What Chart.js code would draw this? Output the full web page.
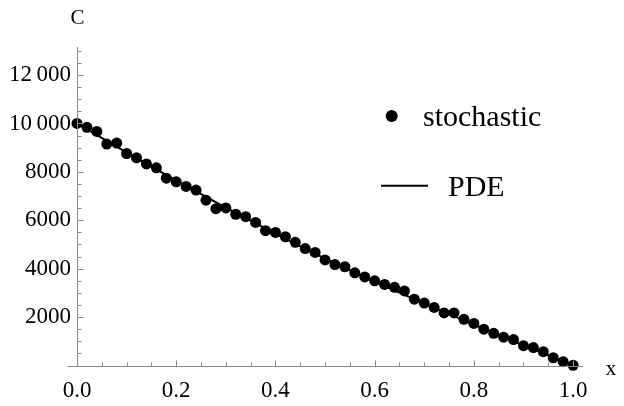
<!DOCTYPE html>
<html>
<head>
<meta charset="utf-8">
<script src="https://cdn.jsdelivr.net/npm/chart.js@4/dist/chart.umd.min.js"></script>
<style>
  html, body { margin: 0; padding: 0; background: #fff; }
  #chart { display: block; }
</style>
</head>
<body>
<canvas id="chart" width="624" height="406"></canvas>
<script>
// x positions of the simulated samples
const xs = [0, 0.02, 0.04, 0.06, 0.08, 0.1, 0.12, 0.14, 0.16, 0.18,
  0.2, 0.22, 0.24, 0.26, 0.28, 0.3, 0.32, 0.34, 0.36, 0.38,
  0.4, 0.42, 0.44, 0.46, 0.48, 0.5, 0.52, 0.54, 0.56, 0.58,
  0.6, 0.62, 0.64, 0.66, 0.68, 0.7, 0.72, 0.74, 0.76, 0.78,
  0.8, 0.82, 0.84, 0.86, 0.88, 0.9, 0.92, 0.94, 0.96, 0.98, 1.0];
// stochastic concentration
const stochastic = [10000, 9840, 9670, 9150, 9190, 8760, 8580, 8330, 8170, 7740,
  7590, 7400, 7250, 6830, 6480, 6510, 6250, 6150, 5910, 5570,
  5500, 5320, 5090, 4830, 4670, 4360, 4170, 4080, 3830, 3660,
  3500, 3350, 3230, 3080, 2740, 2580, 2400, 2170, 2170, 1910,
  1740, 1500, 1330, 1170, 1070, 820, 740, 570, 320, 160, 10];
// PDE solution (mostly hidden under the dots)
const pdeX = [0, 0.1, 0.2, 0.3, 0.4, 0.5, 0.6, 0.7, 0.8, 0.9, 1.0];
const pdeC = [10000, 8800, 7650, 6520, 5450, 4420, 3470, 2560, 1690, 830, 0];

// major ticks with labels
const xMajor = [0, 0.2, 0.4, 0.6, 0.8, 1.0];
const xMajorLabels = ["0.0", "0.2", "0.4", "0.6", "0.8", "1.0"];
const yMajor = [2000, 4000, 6000, 8000, 10000, 12000];
const yMajorLabels = ["2000", "4000", "6000", "8000", "10\u2009000", "12\u2009000"];
const xMinorStep = 0.05;
const yMinorStep = 500;

const seriesNames = ["stochastic", "PDE"];
const serif = "'Liberation Serif', 'Times New Roman', serif";
const axisGray = "#8a8a8a";

// build tick list: majors carry labels, minors are blank
function tickList(major, labels, step, lo, hi) {
  const out = [];
  const n = Math.round((hi - lo) / step);
  for (let i = 0; i <= n; i++) {
    const v = +(lo + i * step).toFixed(6);
    const j = major.findIndex((m) => Math.abs(m - v) < step / 10);
    out.push({ value: v, major: j >= 0, label: j >= 0 ? labels[j] : "" });
  }
  return out;
}

// axes crossing at origin, ticks pointing inward, axis titles and legend
const mmaAxes = {
  id: "mmaAxes",
  afterDraw(chart) {
    const ctx = chart.ctx;
    const xS = chart.scales.x, yS = chart.scales.y;
    const x0 = Math.round(xS.getPixelForValue(0)) + 0.5;
    const y0 = Math.round(yS.getPixelForValue(0)) + 0.5;
    ctx.save();
    ctx.strokeStyle = axisGray;
    ctx.lineWidth = 1;
    ctx.beginPath();
    ctx.moveTo(x0, chart.chartArea.top);
    ctx.lineTo(x0, y0);
    ctx.moveTo(x0 - 10, y0);
    ctx.lineTo(chart.chartArea.right, y0);
    yS.ticks.forEach((t) => {
      if (t.value <= 0) return;
      const p = Math.round(yS.getPixelForValue(t.value)) + 0.5;
      ctx.moveTo(x0, p);
      ctx.lineTo(x0 + (t.major ? 6 : 4), p);
    });
    xS.ticks.forEach((t) => {
      if (t.value <= 0) return;
      const p = Math.round(xS.getPixelForValue(t.value)) + 0.5;
      ctx.moveTo(p, y0);
      ctx.lineTo(p, y0 - (t.major ? 6 : 4));
    });
    ctx.stroke();

    // axis titles
    ctx.fillStyle = "#000";
    ctx.font = "21px " + serif;
    ctx.textAlign = "center";
    ctx.textBaseline = "alphabetic";
    ctx.fillText("C", x0, 24);
    ctx.fillText("x", 611, 375);

    // legend
    ctx.font = "30px " + serif;
    ctx.textAlign = "left";
    ctx.beginPath();
    ctx.arc(391.7, 116, 6, 0, Math.PI * 2);
    ctx.fill();
    ctx.fillText(seriesNames[0], 423, 126);
    ctx.strokeStyle = "#000";
    ctx.lineWidth = 2;
    ctx.beginPath();
    ctx.moveTo(381, 185.7);
    ctx.lineTo(428, 185.7);
    ctx.stroke();
    ctx.fillText(seriesNames[1], 448, 196);
    ctx.restore();
  },
};

new Chart(document.getElementById("chart"), {
  type: "scatter",
  data: {
    datasets: [
      {
        label: seriesNames[0],
        data: xs.map((x, i) => ({ x: x, y: stochastic[i] })),
        backgroundColor: "#000",
        borderWidth: 0,
        pointRadius: 5.5,
        clip: false,
        order: 1,
      },
      {
        label: seriesNames[1],
        type: "line",
        data: pdeX.map((x, i) => ({ x: x, y: pdeC[i] })),
        borderColor: "#000",
        borderWidth: 2,
        pointRadius: 0,
        cubicInterpolationMode: "monotone",
        clip: false,
        order: 2,
      },
    ],
  },
  options: {
    responsive: false,
    animation: false,
    layout: { padding: { top: 47, right: 41, left: 0, bottom: 0 } },
    plugins: {
      legend: { display: false },
      tooltip: { enabled: false },
    },
    scales: {
      x: {
        type: "linear",
        min: 0,
        max: 1.02,
        grid: { display: false, drawTicks: false },
        border: { display: false },
        afterBuildTicks: (s) => {
          s.ticks = tickList(xMajor, xMajorLabels, xMinorStep, 0, 1.0);
        },
        afterFit: (s) => { s.height = 40.5; },
        ticks: {
          autoSkip: false,
          maxRotation: 0,
          padding: 12,
          color: "#000",
          font: { family: serif, size: 23 },
          callback: function (v, i, ticks) { return ticks[i].label; },
        },
      },
      y: {
        min: 0,
        max: 13160,
        grid: { display: false, drawTicks: false },
        border: { display: false },
        afterBuildTicks: (s) => {
          s.ticks = tickList(yMajor, yMajorLabels, yMinorStep, 0, 13000);
        },
        afterFit: (s) => { s.width = 77; },
        ticks: {
          autoSkip: false,
          padding: 6,
          color: "#000",
          font: { family: serif, size: 23 },
          callback: function (v, i, ticks) { return ticks[i].label; },
        },
      },
    },
  },
  plugins: [mmaAxes],
});
</script>
</body>
</html>
